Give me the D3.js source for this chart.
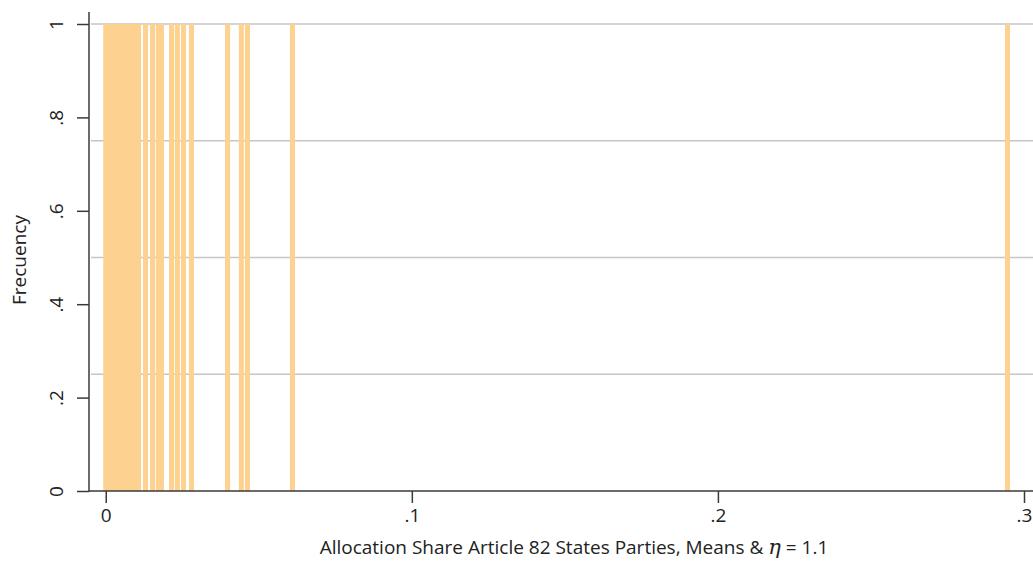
<!DOCTYPE html>
<html>
<head>
<meta charset="utf-8">
<script src="https://cdn.jsdelivr.net/npm/d3@7"></script>
<style>
  html, body { margin: 0; padding: 0; background: #fff; }
  svg { display: block; }
  text { font-family: "Open Sans", "DejaVu Sans", sans-serif; fill: #222; }
</style>
</head>
<body>
<svg id="chart" width="1033" height="561"></svg>
<script>
// Allocation shares (bar centres) and their frequencies
const shares = [0, 0.0011, 0.0024, 0.0037, 0.0050, 0.0063, 0.0076, 0.0089, 0.0099, 0.0107,
                0.0130, 0.0153, 0.0172, 0.0182, 0.0215, 0.0234, 0.0254, 0.0280,
                0.0398, 0.0443, 0.0463, 0.0610, 0.2946];
const frequencies = [1, 1, 1, 1, 1, 1, 1, 1, 1, 1,
                     1, 1, 1, 1, 1, 1, 1, 1,
                     1, 1, 1, 1, 1];
const xTicks = [0, 0.1, 0.2, 0.3];
const xTickLabels = ["0", ".1", ".2", ".3"];
const yTicks = [0, 0.2, 0.4, 0.6, 0.8, 1];
const yTickLabels = ["0", ".2", ".4", ".6", ".8", "1"];
const yGrid = [0.25, 0.5, 0.75, 1];
const barWidth = 0.00164;

const svg = d3.select("#chart");
const x = d3.scaleLinear().domain([0, 0.3]).range([105.75, 1024]);
const y = d3.scaleLinear().domain([0, 1]).range([491, 24]);
const axisColor = "#3a3a3a";

// gridlines
svg.append("g").selectAll("line").data(yGrid).join("line")
  .attr("x1", 91).attr("x2", 1033)
  .attr("y1", d => y(d)).attr("y2", d => y(d))
  .attr("stroke", "#c6c6c6").attr("stroke-width", 1.5);

// bars
svg.append("g").selectAll("rect").data(shares).join("rect")
  .attr("x", d => x(d - barWidth / 2))
  .attr("width", d => x(d + barWidth / 2) - x(d - barWidth / 2))
  .attr("y", (d, i) => y(frequencies[i]))
  .attr("height", (d, i) => y(0) - y(frequencies[i]))
  .attr("fill", "#fdd18f");

// x axis
const xAxis = svg.append("g").attr("transform", `translate(0,${y(0)})`)
  .call(d3.axisBottom(x).tickValues(xTicks).tickFormat((d, i) => xTickLabels[i]).tickSize(12).tickSizeOuter(0));
xAxis.select(".domain").remove();
xAxis.append("line").attr("x1", 89).attr("x2", 1033).attr("y1", 0).attr("y2", 0)
  .attr("stroke", axisColor).attr("stroke-width", 1.5);
xAxis.selectAll(".tick line").attr("stroke", axisColor).attr("stroke-width", 1.5);
xAxis.selectAll(".tick text").attr("font-size", 19).attr("dy", "0.85em")
  .attr("font-family", "'Open Sans', sans-serif").attr("fill", "#222");

// y axis
const yAxis = svg.append("g").attr("transform", "translate(89,0)")
  .call(d3.axisLeft(y).tickValues(yTicks).tickFormat((d, i) => yTickLabels[i]).tickSize(12).tickSizeOuter(0));
yAxis.select(".domain").remove();
yAxis.append("line").attr("x1", 0).attr("x2", 0).attr("y1", 12).attr("y2", y(0) + 0.75)
  .attr("stroke", axisColor).attr("stroke-width", 1.5);
yAxis.selectAll(".tick line").attr("stroke", axisColor).attr("stroke-width", 1.5);
yAxis.selectAll(".tick text")
  .attr("font-size", 19).attr("font-family", "'Open Sans', sans-serif").attr("fill", "#222")
  .attr("x", null).attr("dy", null)
  .attr("text-anchor", "middle")
  .attr("transform", "translate(-33,0) rotate(-90)")
  .attr("dy", "0.35em");

// axis titles
svg.append("text")
  .attr("transform", "translate(26,260) rotate(-90)")
  .attr("text-anchor", "middle")
  .attr("font-size", 19)
  .text("Frecuency");

const xt = svg.append("text")
  .attr("x", 574).attr("y", 554)
  .attr("text-anchor", "middle")
  .attr("font-size", 19);
xt.append("tspan").text("Allocation Share Article 82 States Parties, Means &  ");
xt.append("tspan").attr("font-family", "'DejaVu Serif', serif").attr("font-style", "italic").attr("font-size", 21).text("η");
xt.append("tspan").text(" = 1.1");
</script>
</body>
</html>
